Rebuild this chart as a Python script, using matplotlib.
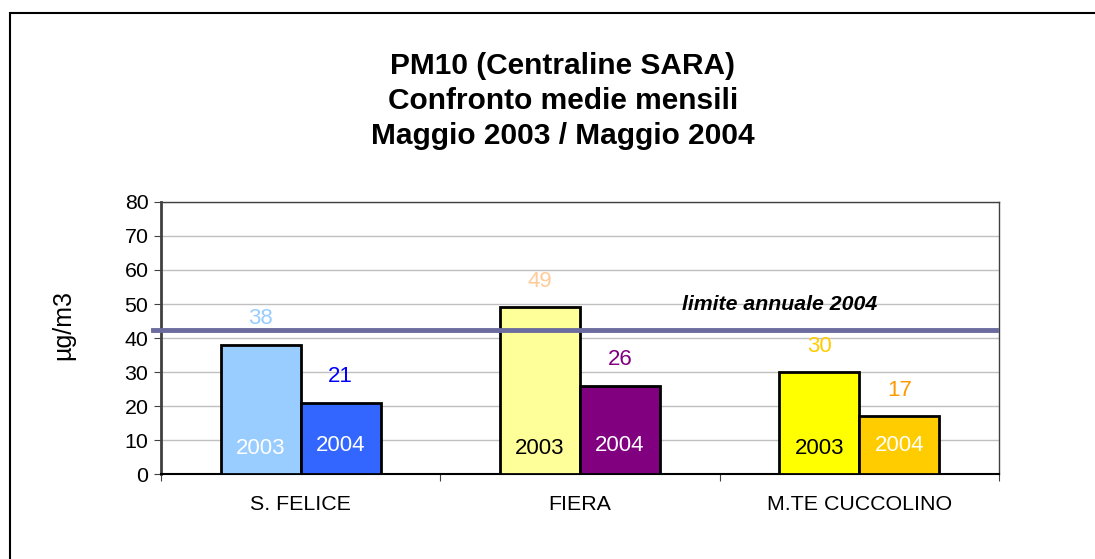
import numpy as np
import matplotlib.pyplot as plt
from matplotlib.patches import Rectangle

plt.rcParams['font.family'] = ['Liberation Sans', 'DejaVu Sans']

# data
stations = ['S. FELICE', 'FIERA', 'M.TE CUCCOLINO']
values_2003 = [38, 49, 30]
values_2004 = [21, 26, 17]
limit_2004 = 42.5

colors_2003 = ['#99CCFF', '#FFFF99', '#FFFF00']
colors_2004 = ['#3366FF', '#800080', '#FFCC00']
label_colors_2003 = ['#99CCFF', '#FFCC99', '#FFCC00']
label_colors_2004 = ['#0000FF', '#800080', '#FF9900']
inner_colors_2003 = ['white', 'black', 'black']
inner_colors_2004 = ['white', 'white', 'white']

fig = plt.figure(figsize=(10.95, 5.59), dpi=100)
ax = fig.add_axes([161 / 1095, 1 - 474 / 559, 838 / 1095, 272 / 559])

# outer chart frame
fig.patches.append(Rectangle((10 / 1095, -0.1), 1.2, 0.1 + (559 - 13) / 559,
                             transform=fig.transFigure, fill=False,
                             edgecolor='black', linewidth=1.5))

x = np.arange(len(stations))
w = 0.286
ax.bar(x - w / 2, values_2003, w, color=colors_2003, edgecolor='black', linewidth=2, zorder=3)
ax.bar(x + w / 2, values_2004, w, color=colors_2004, edgecolor='black', linewidth=2, zorder=3)

for i in range(len(stations)):
    ax.text(x[i] - w / 2, values_2003[i] + 7.6, str(values_2003[i]), ha='center', va='center',
            fontsize=16, color=label_colors_2003[i], zorder=5)
    ax.text(x[i] + w / 2, values_2004[i] + 7.6, str(values_2004[i]), ha='center', va='center',
            fontsize=16, color=label_colors_2004[i], zorder=5)
    ax.text(x[i] - w / 2, 7.5, '2003', ha='center', va='center',
            fontsize=16, color=inner_colors_2003[i], zorder=5)
    ax.text(x[i] + w / 2, 8.5, '2004', ha='center', va='center',
            fontsize=16, color=inner_colors_2004[i], zorder=5)

# annual limit line
ax.plot([-0.53, 2.49], [limit_2004, limit_2004], color='#6B6B9F', linewidth=3.5,
        zorder=4, clip_on=False)
ax.text(1.716, 50, 'limite annuale 2004', ha='center', va='center', fontsize=15.3,
        fontweight='bold', fontstyle='italic', zorder=5)

ax.set_xlim(-0.5, 2.5)
ax.set_ylim(0, 80)
ax.set_yticks(range(0, 81, 10))
ax.yaxis.grid(True, color='#C0C0C0', linewidth=1, zorder=0)
ax.set_axisbelow(True)

ax.set_xticks([-0.5, 0.5, 1.5, 2.5])
ax.set_xticklabels([])
ax.set_xticks(x, minor=True)
ax.set_xticklabels(stations, minor=True, fontsize=15.4)
ax.tick_params(axis='x', which='minor', length=0, pad=15)
ax.tick_params(axis='x', which='major', length=5, color='#404040', direction='out')
ax.tick_params(axis='y', length=5, color='#404040', labelsize=15.4, pad=4)

for s in ['top', 'right']:
    ax.spines[s].set_color('#404040')
    ax.spines[s].set_linewidth(1)
ax.spines['left'].set_color('#404040')
ax.spines['left'].set_linewidth(2)
ax.spines['bottom'].set_color('black')
ax.spines['bottom'].set_linewidth(1.5)

fig.text(63 / 1095, 1 - 325 / 559, 'µg/m3', rotation=90, ha='center', va='center', fontsize=18)

title = 'PM10 (Centraline SARA)\nConfronto medie mensili\nMaggio 2003 / Maggio 2004'
fig.text(563 / 1095, 1 - 101 / 559, title, ha='center', va='center', fontsize=21.5,
         fontweight='bold', linespacing=1.31)

fig.savefig('out.png', dpi=100, facecolor='white')
